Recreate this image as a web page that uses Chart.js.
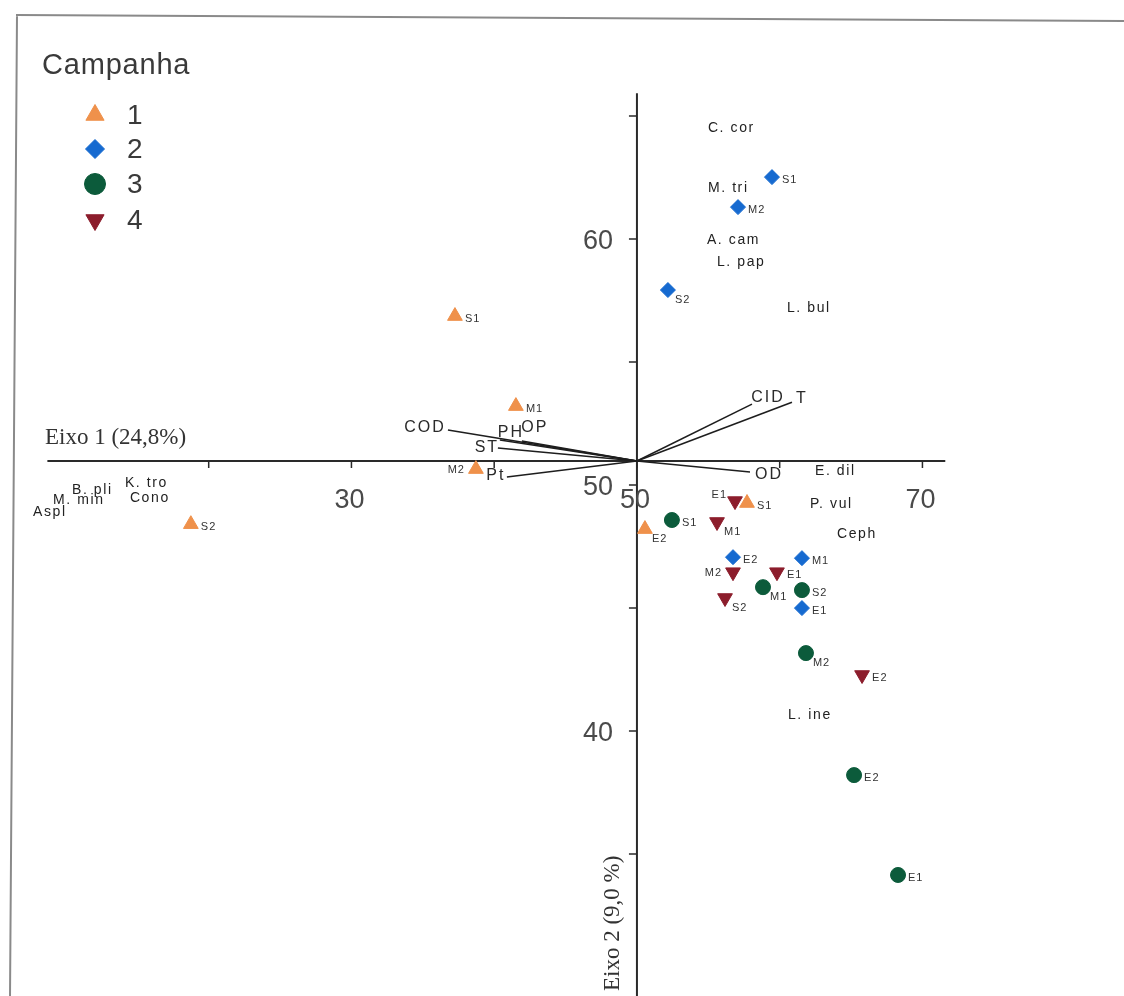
<!DOCTYPE html>
<html lang="pt-br">
<head>
    <meta charset="UTF-8">
    <title>Campanha - CCA</title>
    <script src="https://cdn.jsdelivr.net/npm/chart.js"></script>
    <style>
        body { margin: 0; background: #fff; }
        #grafico { display: block; }
    </style>
</head>
<body>
    <canvas id="grafico" width="1124" height="996"></canvas>

<script>
    // campanhas (legenda)
    var campanhas = ['1', '2', '3', '4']
    var cores = ['#ef914b', '#166ad0', '#0c5b3b', '#8c1d2c']

    // pontos das amostras por campanha
    var c1x = [37.25, 41.52, 38.72, 18.75, 50.56, 57.71]
    var c1y = [56.87, 53.21, 50.65, 48.41, 48.21, 49.27]
    var c1lab = ['S1', 'M1', 'M2', 'S2', 'E2', 'S1']
    var c1pos = ['r', 'r', 'l', 'r', 'br', 'r']

    var c2x = [59.46, 57.08, 52.17, 56.73, 61.56, 61.56]
    var c2y = [62.52, 61.30, 57.93, 47.07, 47.03, 45.00]
    var c2lab = ['S1', 'M2', 'S2', 'E2', 'M1', 'E1']
    var c2pos = ['r', 'r', 'br', 'r', 'r', 'r']

    var c3x = [52.45, 58.83, 61.56, 61.84, 65.21, 68.29]
    var c3y = [48.58, 45.85, 45.73, 43.17, 38.21, 34.15]
    var c3lab = ['S1', 'M1', 'S2', 'M2', 'E2', 'E1']
    var c3pos = ['r', 'br', 'r', 'br', 'r', 'r']

    var c4x = [56.87, 55.61, 56.73, 59.81, 56.17, 65.77]
    var c4y = [49.35, 48.50, 46.46, 46.46, 45.41, 42.28]
    var c4lab = ['E1', 'M1', 'M2', 'E1', 'S2', 'E2']
    var c4pos = ['ul', 'br', 'l', 'r', 'br', 'r']

    // especies
    var espNome = ['C. cor', 'M. tri', 'A. cam', 'L. pap', 'L. bul', 'E. dil', 'P. vul', 'Ceph', 'L. ine',
        'K. tro', 'Cono', 'B. pli', 'M. min', 'Aspl']
    var espX = [54.97, 54.97, 54.90, 55.60, 60.51, 62.47, 62.12, 64.01, 60.58, 14.13, 14.48, 10.42, 9.09, 7.69]
    var espY = [64.51, 62.07, 59.96, 59.07, 57.20, 50.57, 49.23, 48.01, 40.65, 50.08, 49.47, 49.80, 49.39, 48.90]

    // variaveis ambientais (vetores)
    var ambNome = ['COD', 'PH', 'OP', 'ST', 'Pt', 'CID', 'T', 'OD']
    var ambX = [36.76, 40.40, 41.94, 40.26, 40.89, 58.06, 60.86, 57.92]
    var ambY = [52.24, 51.83, 51.79, 51.51, 50.33, 53.29, 53.37, 50.53]
    var ambLabX = [35.15, 41.17, 42.85, 39.49, 40.12, 59.18, 61.56, 59.25]
    var ambLabY = [52.32, 52.15, 52.32, 51.54, 50.37, 53.54, 53.50, 50.41]

    // eixos
    var origemX = 50
    var origemY = 50.98
    var xTicks = [20, 30, 40, 50, 60, 70]
    var xTickLabels = [30, 50, 70]
    var yTicks = [35, 40, 45, 50, 55, 60, 65]
    var yTickLabels = [40, 50, 60]
    var eixo1 = 'Eixo 1 (24,8%)'
    var eixo2 = 'Eixo 2 (9,0 %)'

    function pontos(xs, ys) {
        var d = []
        for (var i = 0; i < xs.length; i++) d.push({ x: xs[i], y: ys[i] })
        return d
    }

    var rotulos = [c1lab, c2lab, c3lab, c4lab]
    var lados = [c1pos, c2pos, c3pos, c4pos]
    var estilos = ['triangle', 'rectRot', 'circle', 'triangle']
    var raios = [8.5, 7.5, 7.5, 8.5]
    var rotacoes = [0, 0, 0, 180]

    var desenhos = {
        id: 'biplot',
        beforeDraw: function (chart) {
            var ctx = chart.ctx
            ctx.save()
            ctx.fillStyle = '#fff'
            ctx.fillRect(0, 0, chart.width, chart.height)
            // moldura
            ctx.strokeStyle = '#8a8a8a'
            ctx.lineWidth = 2
            ctx.beginPath()
            ctx.moveTo(16, 15); ctx.lineTo(1124, 21)
            ctx.moveTo(17, 15); ctx.lineTo(10, 996)
            ctx.stroke()
            ctx.restore()
        },
        beforeDatasetsDraw: function (chart) {
            var ctx = chart.ctx
            var sx = chart.scales.x, sy = chart.scales.y
            var X = function (v) { return sx.getPixelForValue(v) }
            var Y = function (v) { return sy.getPixelForValue(v) }
            var ox = X(origemX), oy = Y(origemY)
            ctx.save()

            // eixos
            ctx.strokeStyle = '#2a2a2a'
            ctx.lineWidth = 2
            ctx.beginPath()
            ctx.moveTo(X(8.7), oy); ctx.lineTo(X(71.6), oy)
            ctx.moveTo(ox, Y(65.93)); ctx.lineTo(ox, chart.height)
            ctx.stroke()
            ctx.lineWidth = 1.5
            ctx.beginPath()
            xTicks.forEach(function (t) { ctx.moveTo(X(t), oy); ctx.lineTo(X(t), oy + 7) })
            yTicks.forEach(function (t) { ctx.moveTo(ox, Y(t)); ctx.lineTo(ox - 8, Y(t)) })
            ctx.stroke()

            // rotulos dos ticks
            ctx.fillStyle = '#4a4a4a'
            ctx.font = '27px "Liberation Sans Narrow", "Liberation Sans", sans-serif'
            ctx.textBaseline = 'middle'
            ctx.textAlign = 'right'
            yTickLabels.forEach(function (t) { ctx.fillText(String(t), ox - 24, Y(t) + 2) })
            ctx.textAlign = 'center'
            xTickLabels.forEach(function (t) { ctx.fillText(String(t), X(t) - 2, oy + 40) })

            // titulos dos eixos
            ctx.fillStyle = '#333'
            ctx.font = '23px "Liberation Serif", serif'
            ctx.textAlign = 'left'
            ctx.fillText(eixo1, 45, oy - 23)
            ctx.save()
            ctx.translate(ox - 24, 991)
            ctx.rotate(-Math.PI / 2)
            ctx.fillText(eixo2, 0, 0)
            ctx.restore()

            // especies
            ctx.fillStyle = '#222'
            ctx.font = '14px "Liberation Sans", Arial, sans-serif'
            ctx.letterSpacing = '1.6px'
            ctx.textAlign = 'left'
            for (var i = 0; i < espNome.length; i++) {
                ctx.fillText(espNome[i], X(espX[i]), Y(espY[i]))
            }

            // vetores ambientais
            ctx.strokeStyle = '#1e1e1e'
            ctx.lineWidth = 1.6
            for (var j = 0; j < ambNome.length; j++) {
                ctx.beginPath()
                ctx.moveTo(ox, oy)
                ctx.lineTo(X(ambX[j]), Y(ambY[j]))
                ctx.stroke()
            }
            ctx.fillStyle = '#2a2a2a'
            ctx.font = '16px "Liberation Sans", Arial, sans-serif'
            ctx.letterSpacing = '2px'
            ctx.textAlign = 'center'
            for (var k = 0; k < ambNome.length; k++) {
                ctx.fillText(ambNome[k], X(ambLabX[k]), Y(ambLabY[k]))
            }
            ctx.letterSpacing = '0px'
            ctx.restore()
        },
        afterDatasetsDraw: function (chart) {
            var ctx = chart.ctx
            ctx.save()
            ctx.fillStyle = '#333'
            ctx.font = '11px "Liberation Sans", Arial, sans-serif'
            ctx.letterSpacing = '1px'
            ctx.textBaseline = 'middle'
            chart.data.datasets.forEach(function (ds, d) {
                var meta = chart.getDatasetMeta(d)
                meta.data.forEach(function (pt, i) {
                    var lado = lados[d][i], txt = rotulos[d][i]
                    if (lado == 'l') { ctx.textAlign = 'right'; ctx.fillText(txt, pt.x - 11, pt.y + 1) }
                    else if (lado == 'ul') { ctx.textAlign = 'right'; ctx.fillText(txt, pt.x - 8, pt.y - 6) }
                    else if (lado == 'br') { ctx.textAlign = 'left'; ctx.fillText(txt, pt.x + 7, pt.y + 10) }
                    else { ctx.textAlign = 'left'; ctx.fillText(txt, pt.x + 10, pt.y + 3) }
                })
            })
            ctx.letterSpacing = '0px'

            // legenda
            ctx.fillStyle = '#3a3a3a'
            ctx.textAlign = 'left'
            ctx.font = '29px "Liberation Sans", Arial, sans-serif'
            ctx.letterSpacing = '0.8px'
            ctx.fillText('Campanha', 42, 66)
            ctx.letterSpacing = '0px'
            ctx.font = '28px "Liberation Sans", Arial, sans-serif'
            var ly = [115, 149, 184, 220]
            for (var c = 0; c < campanhas.length; c++) {
                ctx.fillStyle = cores[c]
                ctx.strokeStyle = cores[c]
                Chart.helpers.drawPoint(ctx, {
                    pointStyle: estilos[c], radius: c == 1 ? 9.5 : 10.5,
                    rotation: rotacoes[c], borderWidth: 1
                }, 95, ly[c])
                ctx.fillStyle = '#3a3a3a'
                ctx.fillText(campanhas[c], 127, ly[c] + 1)
            }
            ctx.restore()
        }
    }

    var dados = [[c1x, c1y], [c2x, c2y], [c3x, c3y], [c4x, c4y]]
    var datasets = dados.map(function (par, i) {
        return {
            label: campanhas[i],
            data: pontos(par[0], par[1]),
            pointStyle: estilos[i],
            pointRadius: raios[i],
            pointRotation: rotacoes[i],
            backgroundColor: cores[i],
            borderColor: cores[i],
            borderWidth: 1
        }
    })

    const ctx = document.getElementById('grafico')

    var meuGrafico = new Chart(ctx, {
        type: 'scatter',
        data: { datasets: datasets },
        options: {
            responsive: false,
            animation: false,
            layout: { padding: 0, autoPadding: false },
            plugins: {
                legend: { display: false },
                tooltip: { enabled: false }
            },
            scales: {
                x: { type: 'linear', min: 5.38, max: 84.12, display: false },
                y: { type: 'linear', min: 29.23, max: 69.72, display: false }
            }
        },
        plugins: [desenhos]
    })
</script>
</body>
</html>
